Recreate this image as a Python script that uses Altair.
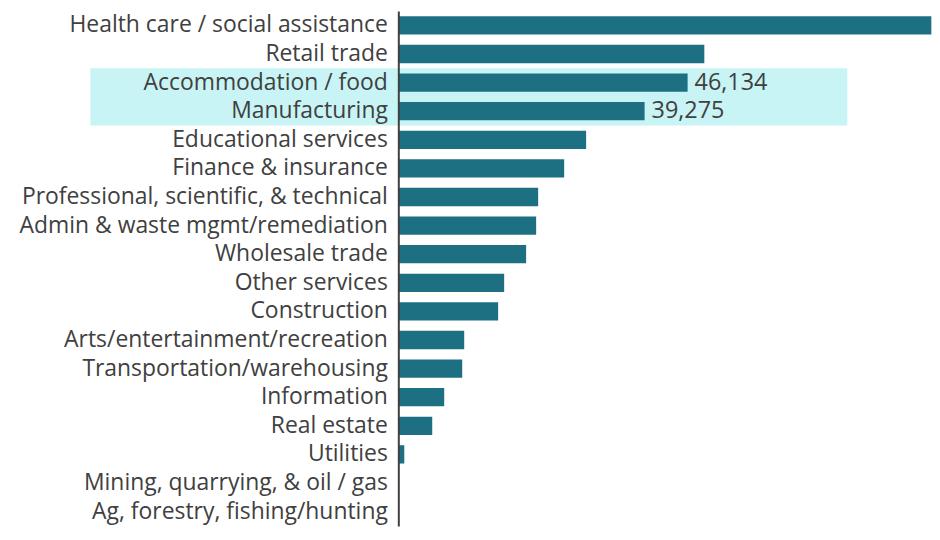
import altair as alt
import pandas as pd

categories = [
    "Health care / social assistance",
    "Retail trade",
    "Accommodation / food",
    "Manufacturing",
    "Educational services",
    "Finance & insurance",
    "Professional, scientific, & technical",
    "Admin & waste mgmt/remediation",
    "Wholesale trade",
    "Other services\u00a0",
    "Construction",
    "Arts/entertainment/recreation",
    "Transportation/warehousing",
    "Information",
    "Real estate",
    "Utilities",
    "Mining, quarrying, & oil / gas",
    "Ag, forestry, fishing/hunting",
]
values = [85000, 48800, 46134, 39275, 29950, 26450, 22300, 21980, 20380,
          16880, 15920, 10510, 10190, 7320, 5410, 955, 40, 30]
highlighted = ["Accommodation / food", "Manufacturing"]

df = pd.DataFrame({"industry": categories, "jobs": values})
lab = df[df["industry"].isin(highlighted)].copy()
hl = pd.DataFrame({"industry": highlighted})
hl["x0"] = -49100
hl["x1"] = 71600

FONT = "Open Sans"
TEXT = "#404040"
BAR = "#1c7082"
X_MAX = 83200

y_enc = alt.Y(
    "industry:N",
    sort=categories,
    title=None,
    scale=alt.Scale(paddingInner=0, paddingOuter=0),
    axis=alt.Axis(
        ticks=False,
        labelPadding=11,
        labelFontSize=23,
        labelFont=FONT,
        labelColor=TEXT,
        labelLimit=400,
        domainColor=TEXT,
        domainWidth=2,
        minExtent=392,
        maxExtent=392,
        grid=False,
    ),
)
x_scale = alt.Scale(domain=[0, X_MAX], nice=False, zero=True)

highlight = alt.Chart(hl).mark_rect(color="#c8f4f5").encode(
    y=y_enc,
    x=alt.X("x0:Q", scale=x_scale, axis=None, title=None),
    x2="x1:Q",
)

bars = alt.Chart(df).mark_bar(color=BAR, height=alt.RelativeBandSize(0.64)).encode(
    y=y_enc,
    x=alt.X("jobs:Q", scale=x_scale, axis=None, title=None),
)

labels = alt.Chart(lab).mark_text(
    align="left", baseline="middle", dx=7, fontSize=23.5, font=FONT, color=TEXT
).encode(
    y=y_enc,
    x=alt.X("jobs:Q", scale=x_scale, axis=None),
    text=alt.Text("jobs:Q", format=","),
)

chart = (
    alt.layer(highlight, bars, labels)
    .properties(width=524, height=517,
                padding={"top": 2, "left": 0, "right": 0, "bottom": 0})
    .configure_view(stroke=None)
)

chart.save("out.html", embed_options={"renderer": "svg", "actions": False})
